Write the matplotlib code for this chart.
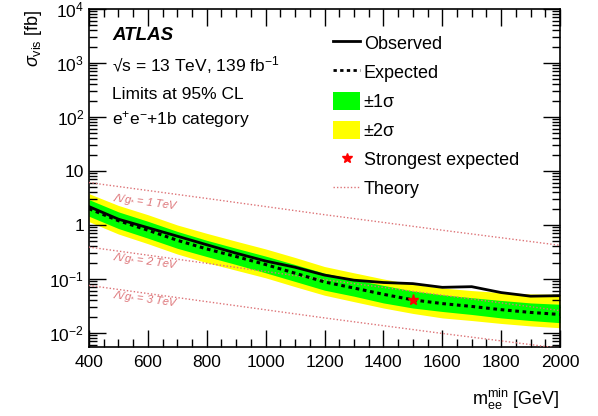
import numpy as np
import matplotlib
matplotlib.use("Agg")
import matplotlib.pyplot as plt
from matplotlib.lines import Line2D
from matplotlib.patches import Patch

plt.rcParams["font.family"] = ["Liberation Sans", "DejaVu Sans"]
plt.rcParams["mathtext.fontset"] = "custom"
plt.rcParams["mathtext.rm"] = "Liberation Sans"
plt.rcParams["mathtext.it"] = "Liberation Sans:italic"
plt.rcParams["mathtext.bf"] = "Liberation Sans:bold"

# mass thresholds [GeV]
mass = [400, 500, 600, 700, 800, 900, 1000, 1100, 1200, 1300, 1400,
        1500, 1600, 1700, 1800, 1900, 2000]

observed = [2.19, 1.28, 0.89, 0.62, 0.43, 0.30, 0.215, 0.165, 0.118, 0.095,
            0.086, 0.082, 0.070, 0.072, 0.056, 0.048, 0.049]
expected = [2.0, 1.2, 0.8, 0.52, 0.36, 0.26, 0.185, 0.128, 0.088, 0.068,
            0.052, 0.041, 0.035, 0.031, 0.027, 0.024, 0.022]
sig1_hi = [2.95, 1.75, 1.17, 0.76, 0.52, 0.37, 0.265, 0.185, 0.128, 0.098,
           0.076, 0.060, 0.051, 0.045, 0.040, 0.036, 0.034]
sig1_lo = [1.45, 0.86, 0.57, 0.37, 0.26, 0.185, 0.13, 0.09, 0.062, 0.048,
           0.036, 0.029, 0.025, 0.022, 0.019, 0.017, 0.0155]
sig2_hi = [3.8, 2.3, 1.55, 1.0, 0.70, 0.50, 0.36, 0.25, 0.17, 0.13,
           0.10, 0.08, 0.068, 0.061, 0.056, 0.053, 0.052]
sig2_lo = [1.15, 0.68, 0.45, 0.29, 0.20, 0.145, 0.105, 0.072, 0.050, 0.038,
           0.029, 0.023, 0.019, 0.017, 0.015, 0.0135, 0.0125]

strongest_mass = [1500]
strongest_xs = [0.041]

# theory curves for Lambda/g* = 1, 2, 3 TeV
theory_mass = [400, 800, 1200, 1600, 2000]
theory_1tev = [6.1, 3.1, 1.55, 0.80, 0.42]
theory_2tev = [0.39, 0.195, 0.097, 0.050, 0.026]
theory_3tev = [0.076, 0.038, 0.019, 0.0098, 0.0052]
theory_labels = ["1", "2", "3"]
label_pos_y = [3.1, 0.25, 0.05]

green = "#00ff00"
yellow = "#ffff00"
theory_col = "#dd7377"

fig = plt.figure(figsize=(5.98, 4.16), dpi=100)
ax = fig.add_axes([0.1488, 0.1659, 0.7877, 0.8125])

ax.fill_between(mass, sig2_lo, sig2_hi, color=yellow, lw=0, zorder=1)
ax.fill_between(mass, sig1_lo, sig1_hi, color=green, lw=0, zorder=2)

for ys in (theory_1tev, theory_2tev, theory_3tev):
    ax.plot(theory_mass, ys, color=theory_col, lw=1.0, ls=(0, (1, 1.5)), zorder=3)

ax.plot(mass, expected, color="black", lw=2.2, ls=(0, (1.2, 1.2)), zorder=4)
ax.plot(mass, observed, color="black", lw=2.0, zorder=5)
ax.plot(strongest_mass, strongest_xs, ls="none", marker="*", color="red",
        ms=8, mec="red", zorder=6)

for lab, yy in zip(theory_labels, label_pos_y):
    ax.text(480, yy, "Λ/g$_{*}$ = " + lab + " TeV", color=theory_col,
            fontsize=8, style="italic", rotation=-7.5, ha="left",
            va="center", rotation_mode="anchor", zorder=3)

ax.set_yscale("log")
ax.set_xlim(400, 2000)
ax.set_ylim(0.0055, 1e4)
ax.set_xticks(np.arange(400, 2001, 200))
ax.set_xticks(np.arange(400, 2001, 50), minor=True)
ax.set_yticks([1e-2, 1e-1, 1, 10, 1e2, 1e3, 1e4])
ax.set_yticklabels(["$10^{-2}$", "$10^{-1}$", "1", "10",
                    "$10^{2}$", "$10^{3}$", "$10^{4}$"])
ax.yaxis.set_minor_locator(matplotlib.ticker.LogLocator(base=10, subs=np.arange(2, 10), numticks=20))
ax.yaxis.set_minor_formatter(matplotlib.ticker.NullFormatter())
ax.tick_params(which="both", direction="in", top=True, right=True,
               labelsize=12.5, width=1.0)
ax.tick_params(which="major", length=12)
ax.tick_params(which="minor", length=6)
ax.tick_params(axis="x", pad=6)
for sp in ax.spines.values():
    sp.set_linewidth(1.2)

ax.set_ylabel(r"$\sigma_{\mathregular{vis}}$ [fb]", fontsize=13, loc="top")
ax.set_xlabel(r"m$_{\mathregular{ee}}^{\mathregular{min}}$ [GeV]", fontsize=13,
              loc="right", labelpad=12)

ax.text(0.049, 0.923, "ATLAS", transform=ax.transAxes, fontsize=13.5,
        fontweight="bold", style="italic", va="center")
ax.text(0.049, 0.834, "√s = 13 TeV, 139 fb$^{-1}$", transform=ax.transAxes,
        fontsize=12.5, va="center")
ax.text(0.049, 0.746, "Limits at 95% CL", transform=ax.transAxes,
        fontsize=12.5, va="center")
ax.text(0.049, 0.672, "e$^{+}$e$^{-}$+1b category", transform=ax.transAxes,
        fontsize=12.5, va="center")

handles = [
    Line2D([], [], color="black", lw=2.0),
    Line2D([], [], color="black", lw=2.0, ls=(0, (1.2, 1.2))),
    Patch(facecolor=green, edgecolor="none"),
    Patch(facecolor=yellow, edgecolor="none"),
    Line2D([], [], ls="none", marker="*", color="red", ms=7),
    Line2D([], [], color=theory_col, lw=1.0, ls=(0, (1, 1.5))),
]
labels = ["Observed", "Expected", "±1σ", "±2σ",
          "Strongest expected", "Theory"]
ax.legend(handles, labels, loc="upper left", bbox_to_anchor=(0.518, 0.926),
          frameon=False, fontsize=13, handlelength=1.5, handleheight=1.1,
          labelspacing=0.57, handletextpad=0.2, borderaxespad=0, borderpad=0)

fig.savefig("out.png", dpi=100)
